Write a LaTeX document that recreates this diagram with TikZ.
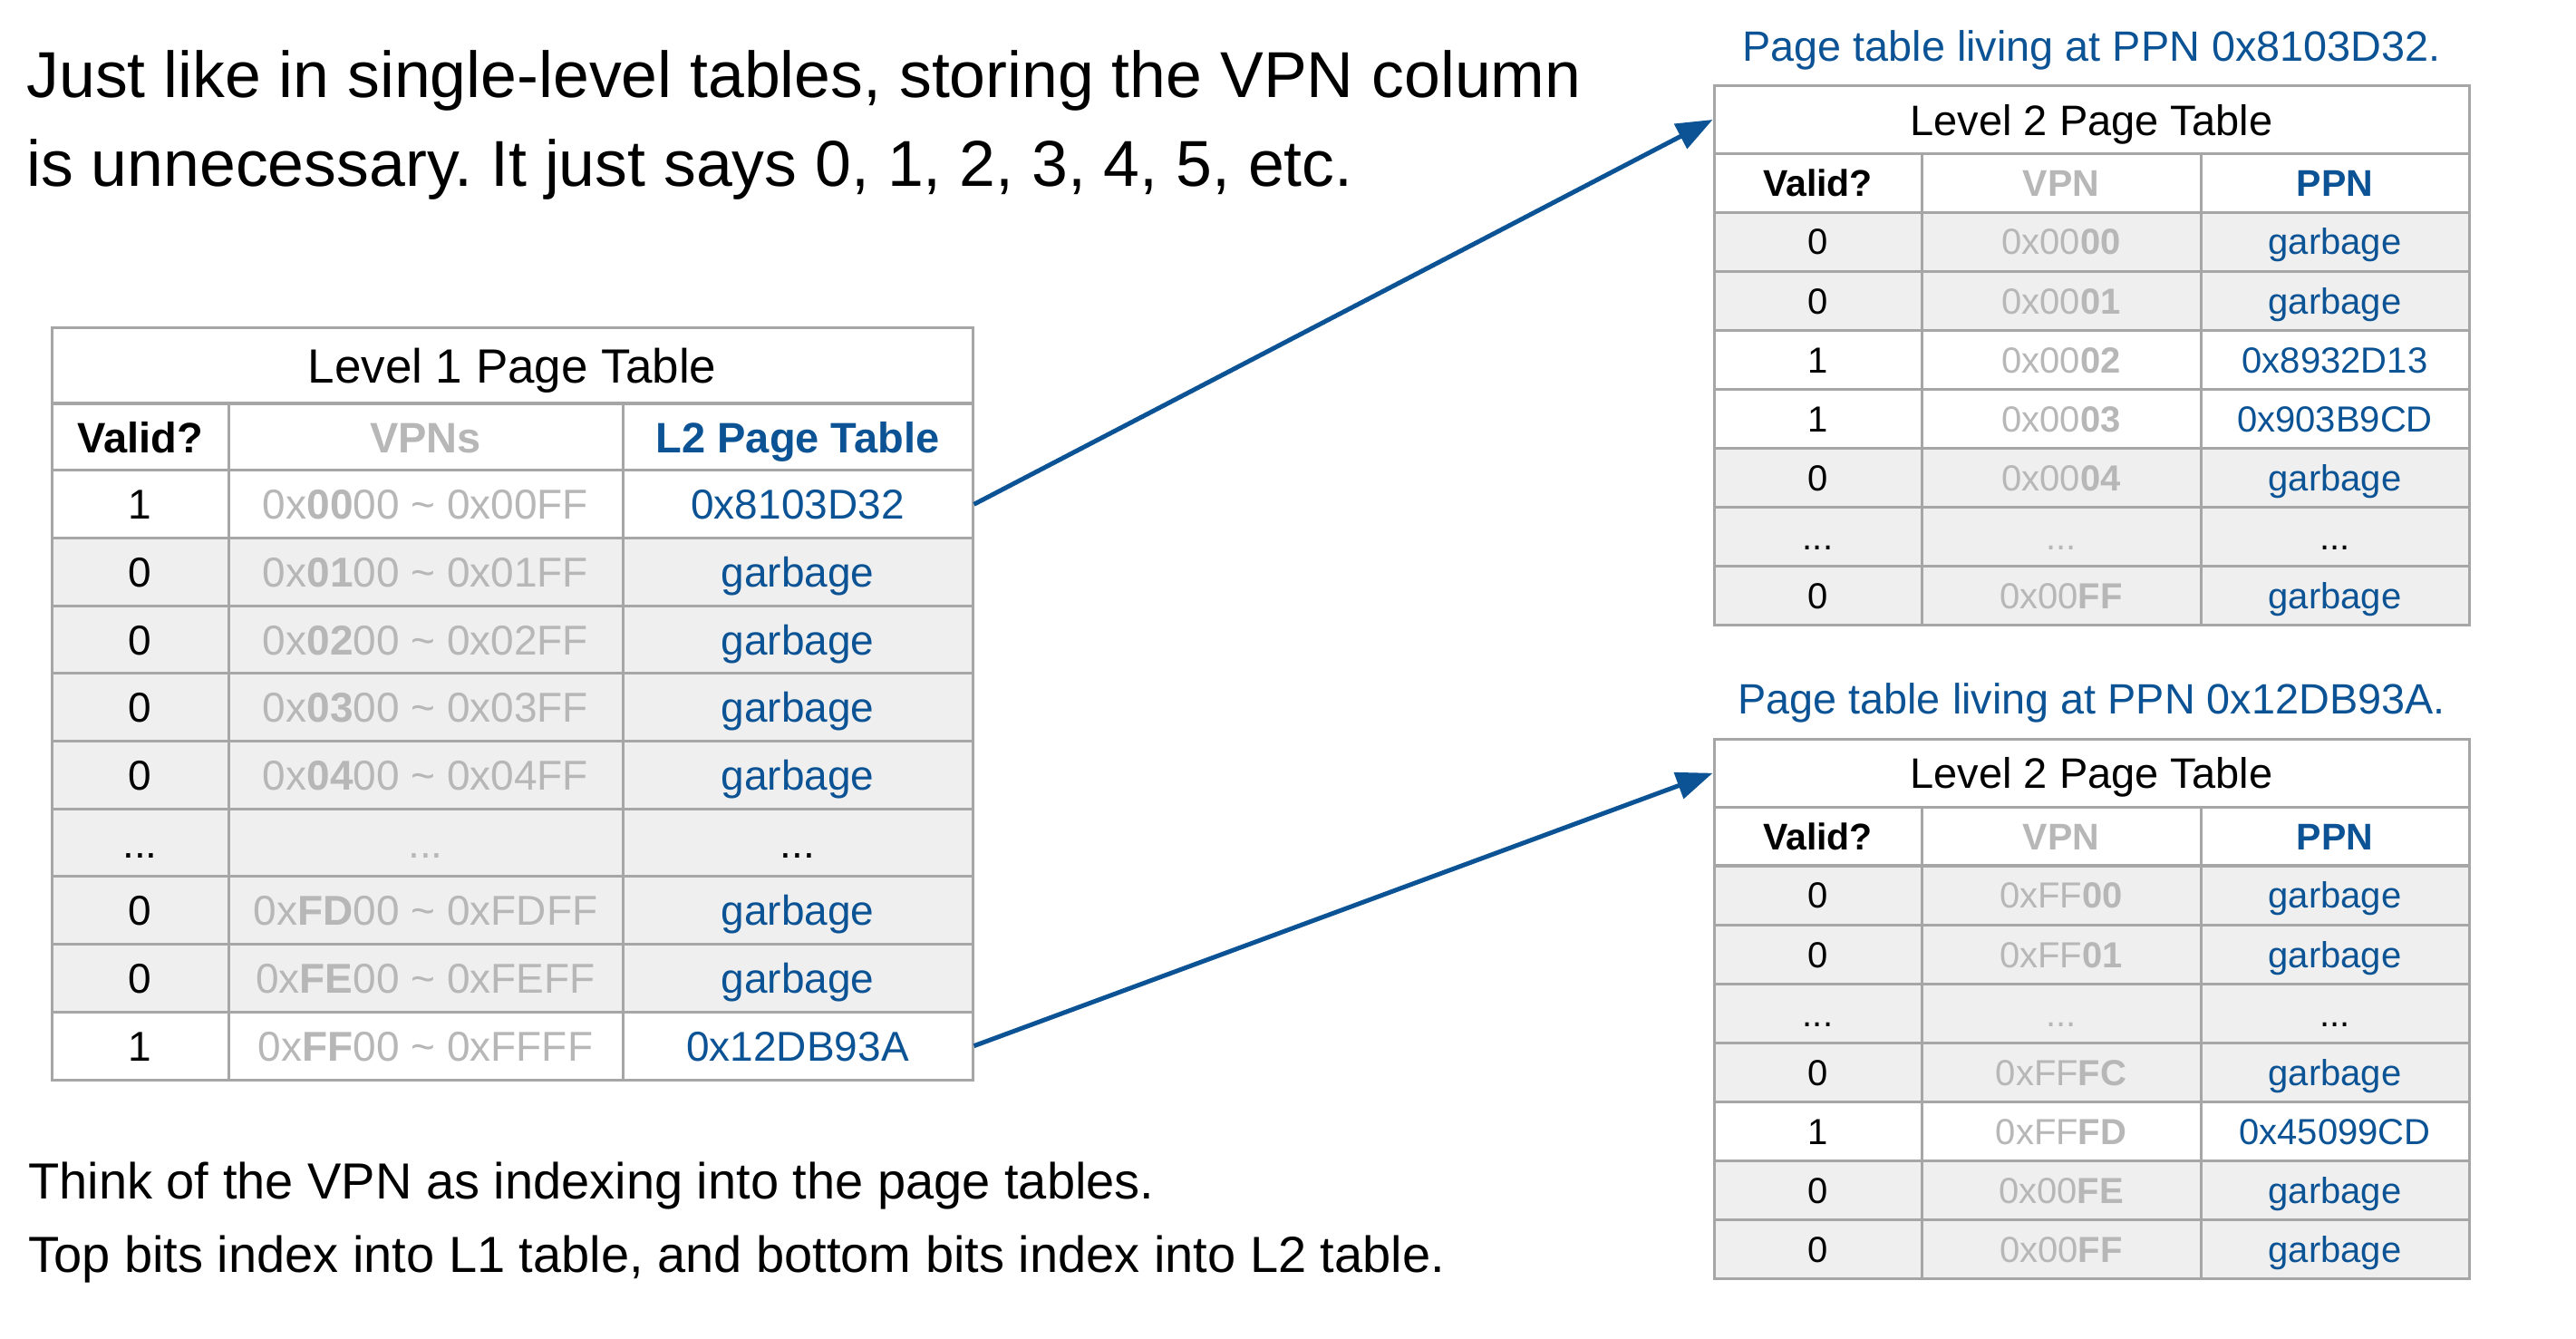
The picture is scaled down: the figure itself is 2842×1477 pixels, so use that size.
\documentclass[tikz,border=0pt]{standalone}
\usepackage{fontspec}
\setmainfont{Liberation Sans}
\usetikzlibrary{arrows.meta}
\frenchspacing
\definecolor{tblue}{HTML}{0B5394}
\definecolor{tgray}{HTML}{B7B7B7}
\definecolor{rowfill}{HTML}{EFEFEF}
\definecolor{gridc}{HTML}{A6A6A6}
\newcommand{\fsz}[1]{\fontsize{#1pt}{#1pt}\selectfont}
\newcommand{\tl}{ \textasciitilde{} }
\tikzset{
  cellbox/.style={draw=gridc, line width=1.5pt, rectangle, inner sep=0pt, anchor=center, text depth=0pt},
  lonecell/.style={cellbox, minimum height=37.33pt, font=\fsz{23}, text height=16.5pt},
  lonehead/.style={cellbox, minimum height=37pt, font=\fsz{23.5}\bfseries, text height=17pt, fill=white},
  ltwocell/.style={cellbox, minimum height=32.57pt, font=\fsz{20}, text height=14.3pt},
  ltwohead/.style={cellbox, minimum height=32.25pt, font=\fsz{20.5}\bfseries, text height=14.7pt, fill=white},
  titlecell/.style={cellbox, fill=white},
  linkarrow/.style={draw=tblue, line width=2.5pt, -{Triangle[length=20pt, width=15pt]}},
  plaintext/.style={inner sep=0pt, anchor=base west},
  captext/.style={inner sep=0pt, anchor=base, text=tblue, font=\fsz{23.4}},
}
% level 1 row: #1 index, #2 y, #3 fill, #4 valid, #5 vpn, #6 ppn
\newcommand{\lonerow}[6]{%
  \node[lonecell, fill=#3, minimum width=97.5pt] (l1v#1) at (154.5,#2) {#4};
  \node[lonecell, fill=#3, minimum width=217.5pt, text=tgray] (l1n#1) at (469.5,#2) {#5};
  \node[lonecell, fill=#3, minimum width=193pt, text=tblue] (l1p#1) at (880,#2) {#6};
}
% level 2 row: #1 table, #2 index, #3 y, #4 fill, #5 valid, #6 vpn, #7 ppn
\newcommand{\ltworow}[7]{%
  \node[ltwocell, fill=#4, minimum width=114.5pt] (#1v#2) at (2005.5,#3) {#5};
  \node[ltwocell, fill=#4, minimum width=154pt, text=tgray] (#1n#2) at (2274,#3) {#6};
  \node[ltwocell, fill=#4, minimum width=148pt, text=tblue] (#1p#2) at (2576,#3) {#7};
}
\begin{document}
\begin{tikzpicture}[x=0.5pt, y=-0.5pt]
\useasboundingbox (0,0) rectangle (2842,1477);

% top explanatory text
\node[plaintext, font=\fsz{35.8}] (intro1) at (29,108) {Just like in single-level tables, storing the VPN column};
\node[plaintext, font=\fsz{35.8}] (intro2) at (29,205) {is unnecessary. It just says 0, 1, 2, 3, 4, 5, etc.};

% bottom explanatory text
\node[plaintext, font=\fsz{28}] (note1) at (31,1322) {Think of the VPN as indexing into the page tables.};
\node[plaintext, font=\fsz{28}] (note2) at (31,1403) {Top bits index into L1 table, and bottom bits index into L2 table.};

% ---------- Level 1 table ----------
\node[titlecell, minimum width=508pt, minimum height=41.75pt, font=\fsz{26.5}, text height=19pt] (l1title) at (565,403) {Level 1 Page Table};
\node[lonehead, minimum width=97.5pt] (l1hv) at (154.5,482) {Valid?};
\node[lonehead, minimum width=217.5pt, text=tgray] (l1hn) at (469.5,482) {VPNs};
\node[lonehead, minimum width=193pt, text=tblue] (l1hp) at (880,482) {L2 Page Table};
\lonerow{1}{556.3}{white}{1}{0x\textbf{00}00\tl 0x00FF}{0x8103D32}
\lonerow{2}{631.0}{rowfill}{0}{0x\textbf{01}00\tl 0x01FF}{garbage}
\lonerow{3}{705.7}{rowfill}{0}{0x\textbf{02}00\tl 0x02FF}{garbage}
\lonerow{4}{780.3}{rowfill}{0}{0x\textbf{03}00\tl 0x03FF}{garbage}
\lonerow{5}{855.0}{rowfill}{0}{0x\textbf{04}00\tl 0x04FF}{garbage}
\lonerow{6}{929.7}{rowfill}{...}{...}{\textcolor{black}{...}}
\lonerow{7}{1004.3}{rowfill}{0}{0x\textbf{FD}00\tl 0xFDFF}{garbage}
\lonerow{8}{1079.0}{rowfill}{0}{0x\textbf{FE}00\tl 0xFEFF}{garbage}
\lonerow{9}{1153.7}{white}{1}{0x\textbf{FF}00\tl 0xFFFF}{0x12DB93A}

% ---------- Level 2 table (top) ----------
\node[captext] (capa) at (2307.5,68) {Page table living at PPN 0x8103D32.};
\node[titlecell, minimum width=416.5pt, minimum height=37.5pt, font=\fsz{23.5}, text height=17pt] (l2atitle) at (2307.5,132) {Level 2 Page Table};
\node[ltwohead, minimum width=114.5pt] (l2ahv) at (2005.5,201.75) {Valid?};
\node[ltwohead, minimum width=154pt, text=tgray] (l2ahn) at (2274,201.75) {VPN};
\node[ltwohead, minimum width=148pt, text=tblue] (l2ahp) at (2576,201.75) {PPN};
\ltworow{l2a}{1}{266.6}{rowfill}{0}{0x00\textbf{00}}{garbage}
\ltworow{l2a}{2}{331.7}{rowfill}{0}{0x00\textbf{01}}{garbage}
\ltworow{l2a}{3}{396.9}{white}{1}{0x00\textbf{02}}{0x8932D13}
\ltworow{l2a}{4}{462.0}{white}{1}{0x00\textbf{03}}{0x903B9CD}
\ltworow{l2a}{5}{527.1}{rowfill}{0}{0x00\textbf{04}}{garbage}
\ltworow{l2a}{6}{592.3}{rowfill}{...}{...}{\textcolor{black}{...}}
\ltworow{l2a}{7}{657.4}{rowfill}{0}{0x00\textbf{FF}}{garbage}

% ---------- Level 2 table (bottom) ----------
\node[captext] (capb) at (2307.5,787) {Page table living at PPN 0x12DB93A.};
\node[titlecell, minimum width=416.5pt, minimum height=37.25pt, font=\fsz{23.5}, text height=17pt] (l2btitle) at (2307.5,852.75) {Level 2 Page Table};
\node[ltwohead, minimum width=114.5pt] (l2bhv) at (2005.5,922.5) {Valid?};
\node[ltwohead, minimum width=154pt, text=tgray] (l2bhn) at (2274,922.5) {VPN};
\node[ltwohead, minimum width=148pt, text=tblue] (l2bhp) at (2576,922.5) {PPN};
\ltworow{l2b}{1}{987.6}{rowfill}{0}{0xFF\textbf{00}}{garbage}
\ltworow{l2b}{2}{1052.7}{rowfill}{0}{0xFF\textbf{01}}{garbage}
\ltworow{l2b}{3}{1117.8}{rowfill}{...}{...}{\textcolor{black}{...}}
\ltworow{l2b}{4}{1183.0}{rowfill}{0}{0xFF\textbf{FC}}{garbage}
\ltworow{l2b}{5}{1248.1}{white}{1}{0xFF\textbf{FD}}{0x45099CD}
\ltworow{l2b}{6}{1313.3}{rowfill}{0}{0x00\textbf{FE}}{garbage}
\ltworow{l2b}{7}{1378.4}{rowfill}{0}{0x00\textbf{FF}}{garbage}

% ---------- connectors ----------
\draw[linkarrow] (l1p1.east) -- (l2atitle.west);
\draw[linkarrow] (l1p9.east) -- (l2btitle.west);
\end{tikzpicture}
\end{document}
